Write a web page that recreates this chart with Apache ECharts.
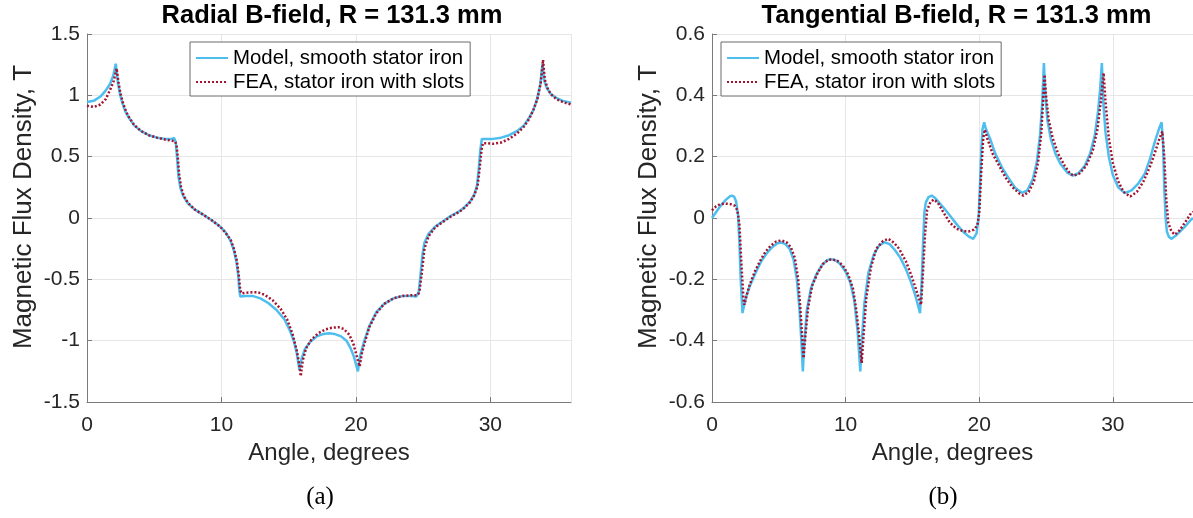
<!DOCTYPE html>
<html><head><meta charset="utf-8">
<script src="https://cdn.jsdelivr.net/npm/echarts@6/dist/echarts.min.js"></script>
<style>html,body{margin:0;padding:0;background:#fff}#c{width:1193px;height:518px}</style>
</head><body><div id="c"></div><script>
// ---- data (angle in degrees, flux density in T) ----
const seriesNames = ['Model, smooth stator iron', 'FEA, stator iron with slots'];
const panelTitles = ['Radial B-field, R = 131.3 mm', 'Tangential B-field, R = 131.3 mm'];
const panelCaptions = ['(a)', '(b)'];
const xLabel = 'Angle, degrees';
const yLabel = 'Magnetic Flux Density, T';
const xRange = [0, 36, 10];
const radialYRange = [-1.5, 1.5, 0.5];
const tangYRange = [-0.6, 0.6, 0.2];

const radialModel = [[0,0.945],[0.5,0.955],[1.0,0.99],[1.4,1.04],[1.7,1.09],[1.95,1.16],[2.14,1.258],[2.3,1.10],[2.45,1.01],[2.65,0.93],[2.85,0.87],[3.1,0.82],[3.5,0.755],[4.0,0.71],[4.6,0.675],[5.2,0.655],[5.8,0.645],[6.3,0.645],[6.48,0.652],[6.6,0.62],[6.7,0.49],[6.8,0.34],[6.95,0.245],[7.15,0.18],[7.5,0.12],[8.0,0.07],[8.6,0.03],[9.3,-0.02],[9.9,-0.07],[10.3,-0.115],[10.65,-0.18],[10.9,-0.255],[11.1,-0.35],[11.25,-0.47],[11.32,-0.58],[11.4,-0.64],[11.8,-0.635],[12.3,-0.635],[12.9,-0.655],[13.5,-0.695],[14.1,-0.75],[14.7,-0.83],[15.1,-0.92],[15.4,-1.01],[15.6,-1.1],[15.8,-1.24],[15.95,-1.15],[16.2,-1.07],[16.6,-1.01],[17.1,-0.965],[17.6,-0.945],[18.0,-0.94],[18.4,-0.945],[18.9,-0.965],[19.3,-1.0],[19.6,-1.06],[19.85,-1.13],[20.0,-1.19],[20.15,-1.25],[20.3,-1.13],[20.6,-1.01],[21.0,-0.88],[21.5,-0.77],[22.1,-0.7],[22.8,-0.655],[23.5,-0.635],[24.1,-0.635],[24.5,-0.64],[24.6,-0.645],[24.68,-0.6],[24.8,-0.47],[24.95,-0.3],[25.1,-0.2],[25.4,-0.13],[25.9,-0.07],[26.5,-0.025],[27.1,0.02],[27.7,0.055],[28.1,0.09],[28.5,0.135],[28.8,0.19],[29.0,0.26],[29.12,0.38],[29.25,0.55],[29.37,0.644],[29.7,0.645],[30.2,0.645],[30.8,0.655],[31.4,0.675],[32.0,0.71],[32.5,0.755],[32.9,0.82],[33.2,0.88],[33.45,0.96],[33.7,1.08],[33.88,1.258],[34.0,1.12],[34.2,1.06],[34.5,1.01],[34.9,0.98],[35.4,0.955],[36.0,0.94]];

const radialFEA = [[0,0.915],[0.5,0.905],[1.0,0.925],[1.4,0.97],[1.7,1.04],[2.0,1.12],[2.2,1.22],[2.35,1.10],[2.5,1.01],[2.7,0.93],[2.9,0.87],[3.1,0.825],[3.5,0.76],[4.0,0.71],[4.6,0.675],[5.2,0.655],[5.8,0.64],[6.3,0.63],[6.55,0.625],[6.65,0.6],[6.75,0.5],[6.85,0.36],[7.0,0.25],[7.2,0.18],[7.5,0.125],[8.0,0.07],[8.6,0.03],[9.3,-0.02],[9.9,-0.07],[10.3,-0.12],[10.7,-0.18],[10.95,-0.26],[11.15,-0.35],[11.3,-0.48],[11.4,-0.59],[11.5,-0.615],[11.8,-0.61],[12.3,-0.605],[12.7,-0.605],[13.2,-0.625],[13.8,-0.67],[14.4,-0.74],[14.9,-0.83],[15.3,-0.95],[15.6,-1.08],[15.8,-1.2],[15.9,-1.29],[16.05,-1.16],[16.3,-1.06],[16.7,-0.99],[17.2,-0.94],[17.7,-0.91],[18.2,-0.895],[18.7,-0.89],[19.1,-0.905],[19.5,-0.95],[19.8,-1.02],[20.0,-1.1],[20.2,-1.18],[20.28,-1.21],[20.45,-1.1],[20.7,-1.0],[21.0,-0.89],[21.5,-0.78],[22.1,-0.7],[22.8,-0.655],[23.5,-0.635],[24.1,-0.63],[24.5,-0.63],[24.65,-0.62],[24.75,-0.58],[24.9,-0.45],[25.1,-0.25],[25.4,-0.15],[25.9,-0.075],[26.5,-0.03],[27.1,0.015],[27.7,0.05],[28.1,0.085],[28.5,0.13],[28.8,0.185],[29.05,0.26],[29.2,0.4],[29.35,0.56],[29.45,0.61],[29.7,0.61],[30.2,0.605],[30.8,0.615],[31.4,0.645],[32.0,0.69],[32.5,0.745],[32.9,0.81],[33.2,0.88],[33.5,0.97],[33.75,1.1],[33.92,1.29],[34.05,1.13],[34.25,1.06],[34.5,1.01],[34.9,0.97],[35.4,0.945],[36.0,0.925]];

const tangModel = [[0,0.0],[0.35,0.022],[0.7,0.043],[1.05,0.06],[1.35,0.071],[1.5,0.073],[1.65,0.07],[1.8,0.055],[1.95,0.01],[2.05,-0.08],[2.15,-0.2],[2.28,-0.31],[2.4,-0.285],[2.6,-0.25],[2.9,-0.215],[3.3,-0.175],[3.7,-0.14],[4.1,-0.115],[4.5,-0.095],[4.9,-0.082],[5.2,-0.08],[5.5,-0.085],[5.8,-0.1],[6.1,-0.135],[6.35,-0.2],[6.55,-0.3],[6.7,-0.41],[6.8,-0.5],[6.9,-0.41],[7.1,-0.3],[7.4,-0.23],[7.8,-0.185],[8.2,-0.155],[8.6,-0.138],[8.9,-0.134],[9.2,-0.137],[9.6,-0.15],[10.0,-0.175],[10.35,-0.21],[10.65,-0.27],[10.9,-0.37],[11.1,-0.5],[11.2,-0.41],[11.4,-0.28],[11.7,-0.18],[12.1,-0.12],[12.5,-0.09],[12.9,-0.079],[13.3,-0.085],[13.7,-0.105],[14.1,-0.13],[14.5,-0.165],[14.9,-0.21],[15.2,-0.25],[15.45,-0.29],[15.57,-0.31],[15.7,-0.2],[15.8,-0.08],[15.9,0.02],[16.0,0.05],[16.2,0.068],[16.45,0.073],[16.7,0.065],[17.0,0.05],[17.4,0.03],[17.8,0.008],[18.3,-0.02],[18.8,-0.045],[19.2,-0.06],[19.55,-0.068],[19.8,-0.05],[19.95,0.0],[20.05,0.1],[20.15,0.22],[20.25,0.29],[20.37,0.312],[20.5,0.29],[20.8,0.26],[21.2,0.21],[21.7,0.165],[22.2,0.13],[22.7,0.098],[23.2,0.082],[23.6,0.09],[24.0,0.125],[24.3,0.18],[24.55,0.27],[24.72,0.38],[24.84,0.505],[24.95,0.4],[25.1,0.32],[25.35,0.26],[25.7,0.21],[26.1,0.175],[26.6,0.148],[27.0,0.138],[27.4,0.145],[27.9,0.17],[28.3,0.21],[28.65,0.27],[28.9,0.35],[29.05,0.42],[29.18,0.505],[29.28,0.38],[29.45,0.28],[29.7,0.2],[30.0,0.14],[30.4,0.1],[30.9,0.081],[31.4,0.09],[31.9,0.112],[32.4,0.145],[32.8,0.195],[33.15,0.25],[33.45,0.29],[33.65,0.312],[33.75,0.25],[33.85,0.1],[33.95,0.0],[34.05,-0.045],[34.2,-0.062],[34.4,-0.068],[34.7,-0.058],[35.0,-0.045],[35.4,-0.028],[35.8,-0.008],[36.0,0.0]];

const tangFEA = [[0,0.025],[0.3,0.038],[0.6,0.045],[1.0,0.047],[1.4,0.045],[1.7,0.04],[1.9,0.025],[2.05,-0.02],[2.2,-0.15],[2.35,-0.26],[2.42,-0.283],[2.55,-0.26],[2.8,-0.22],[3.2,-0.175],[3.6,-0.14],[4.0,-0.11],[4.4,-0.09],[4.8,-0.077],[5.2,-0.073],[5.6,-0.08],[5.9,-0.095],[6.2,-0.13],[6.45,-0.2],[6.65,-0.32],[6.85,-0.457],[7.0,-0.38],[7.2,-0.29],[7.5,-0.22],[7.9,-0.18],[8.3,-0.15],[8.7,-0.137],[9.0,-0.135],[9.4,-0.14],[9.8,-0.155],[10.2,-0.185],[10.55,-0.23],[10.8,-0.3],[11.0,-0.38],[11.2,-0.473],[11.35,-0.38],[11.55,-0.26],[11.9,-0.16],[12.3,-0.1],[12.8,-0.075],[13.2,-0.068],[13.6,-0.08],[14.0,-0.1],[14.5,-0.14],[14.9,-0.185],[15.25,-0.23],[15.5,-0.265],[15.65,-0.283],[15.8,-0.17],[15.95,-0.05],[16.1,0.025],[16.35,0.052],[16.6,0.06],[16.9,0.05],[17.3,0.02],[17.8,-0.015],[18.3,-0.035],[18.8,-0.043],[19.2,-0.044],[19.6,-0.038],[19.85,-0.025],[20.0,0.016],[20.15,0.15],[20.3,0.26],[20.42,0.288],[20.6,0.26],[21.0,0.21],[21.5,0.17],[22.0,0.13],[22.5,0.1],[23.0,0.08],[23.3,0.073],[23.7,0.085],[24.1,0.12],[24.4,0.18],[24.65,0.28],[24.8,0.4],[24.89,0.467],[25.0,0.4],[25.2,0.32],[25.5,0.26],[25.9,0.21],[26.4,0.17],[26.8,0.145],[27.1,0.138],[27.5,0.145],[28.0,0.17],[28.5,0.22],[28.85,0.29],[29.1,0.38],[29.31,0.473],[29.45,0.38],[29.7,0.26],[30.0,0.18],[30.4,0.12],[30.8,0.085],[31.3,0.07],[31.8,0.085],[32.3,0.12],[32.8,0.17],[33.2,0.22],[33.5,0.26],[33.7,0.282],[33.85,0.2],[34.0,0.06],[34.15,-0.016],[34.4,-0.045],[34.65,-0.054],[35.0,-0.04],[35.4,-0.015],[35.86,0.016],[36.0,0.02]];

// ---- styling / layout ----
const FONT = '"Liberation Sans", Arial, Helvetica, sans-serif';
const AX = '#7a7a7a', GRID = '#e6e6e6', TXT = '#262626';
const BLUE = '#4DBEEE', RED = '#A2142F';
const panels = [
  {left: 87, width: 484, yr: radialYRange, model: radialModel, fea: radialFEA, legendLeft: 190, capX: 320},
  {left: 712, width: 483, yr: tangYRange, model: tangModel, fea: tangFEA, legendLeft: 721, capX: 943}
];

const option = {
  backgroundColor: '#fff',
  animation: false,
  title: [],
  legend: [],
  grid: [],
  xAxis: [],
  yAxis: [],
  series: []
};

panels.forEach((p, i) => {
  option.grid.push({left: p.left, top: 34, width: p.width, height: 368, containLabel: false});
  option.title.push({
    text: panelTitles[i], left: p.left + p.width / 2 + 3, top: 3, padding: 0, textAlign: 'center',
    textStyle: {fontSize: 25.5, fontWeight: 'bold', color: '#000', fontFamily: FONT}
  });
  option.title.push({
    text: panelCaptions[i], left: p.capX, top: 485, padding: 0, textAlign: 'center',
    textStyle: {fontSize: 25, fontWeight: 'normal', color: '#000', fontFamily: '"Liberation Serif", "DejaVu Serif", serif'}
  });
  option.xAxis.push({
    type: 'value', gridIndex: i, min: xRange[0], max: xRange[1], interval: xRange[2],
    name: xLabel, nameLocation: 'middle', nameGap: 39,
    nameTextStyle: {fontSize: 24, color: TXT, fontFamily: FONT},
    axisLine: {show: true, onZero: false, lineStyle: {color: AX, width: 1}},
    axisTick: {show: true, inside: true, length: 5, lineStyle: {color: AX}},
    axisLabel: {fontSize: 21, color: TXT, fontFamily: FONT, margin: 13, showMaxLabel: false},
    splitLine: {show: true, lineStyle: {color: GRID, width: 1}}
  });
  option.yAxis.push({
    type: 'value', gridIndex: i, min: p.yr[0], max: p.yr[1], interval: p.yr[2],
    name: yLabel, nameLocation: 'middle', nameGap: 50,
    nameTextStyle: {fontSize: 26, color: TXT, fontFamily: FONT, padding: [0, 0, 0, 22]},
    axisLine: {show: true, onZero: false, lineStyle: {color: AX, width: 1}},
    axisTick: {show: true, inside: true, length: 5, lineStyle: {color: AX}},
    axisLabel: {fontSize: 21, color: TXT, fontFamily: FONT, margin: 7},
    splitLine: {show: true, lineStyle: {color: GRID, width: 1}}
  });
  option.legend.push({
    orient: 'vertical', left: p.legendLeft, top: 42, padding: [6, 6, 4, 5],
    itemWidth: 32, itemHeight: 14, itemGap: 4, selectedMode: false,
    borderColor: '#6a6a6a', borderWidth: 1, backgroundColor: '#fff',
    itemStyle: {opacity: 0},
    textStyle: {fontSize: 20.4, color: '#000', fontFamily: FONT},
    data: seriesNames
  });
  option.series.push({
    type: 'line', name: seriesNames[0], xAxisIndex: i, yAxisIndex: i, data: p.model,
    symbol: 'none', showSymbol: false, z: 2,
    lineStyle: {color: BLUE, width: 2.5}, itemStyle: {color: BLUE}
  });
  option.series.push({
    type: 'line', name: seriesNames[1], xAxisIndex: i, yAxisIndex: i, data: p.fea,
    symbol: 'none', showSymbol: false, z: 3,
    lineStyle: {color: RED, width: 2.5, type: [2, 2]}, itemStyle: {color: RED}
  });
});

const chart = echarts.init(document.getElementById('c'), null, {renderer: 'canvas'});
chart.setOption(option);
</script></body></html>
